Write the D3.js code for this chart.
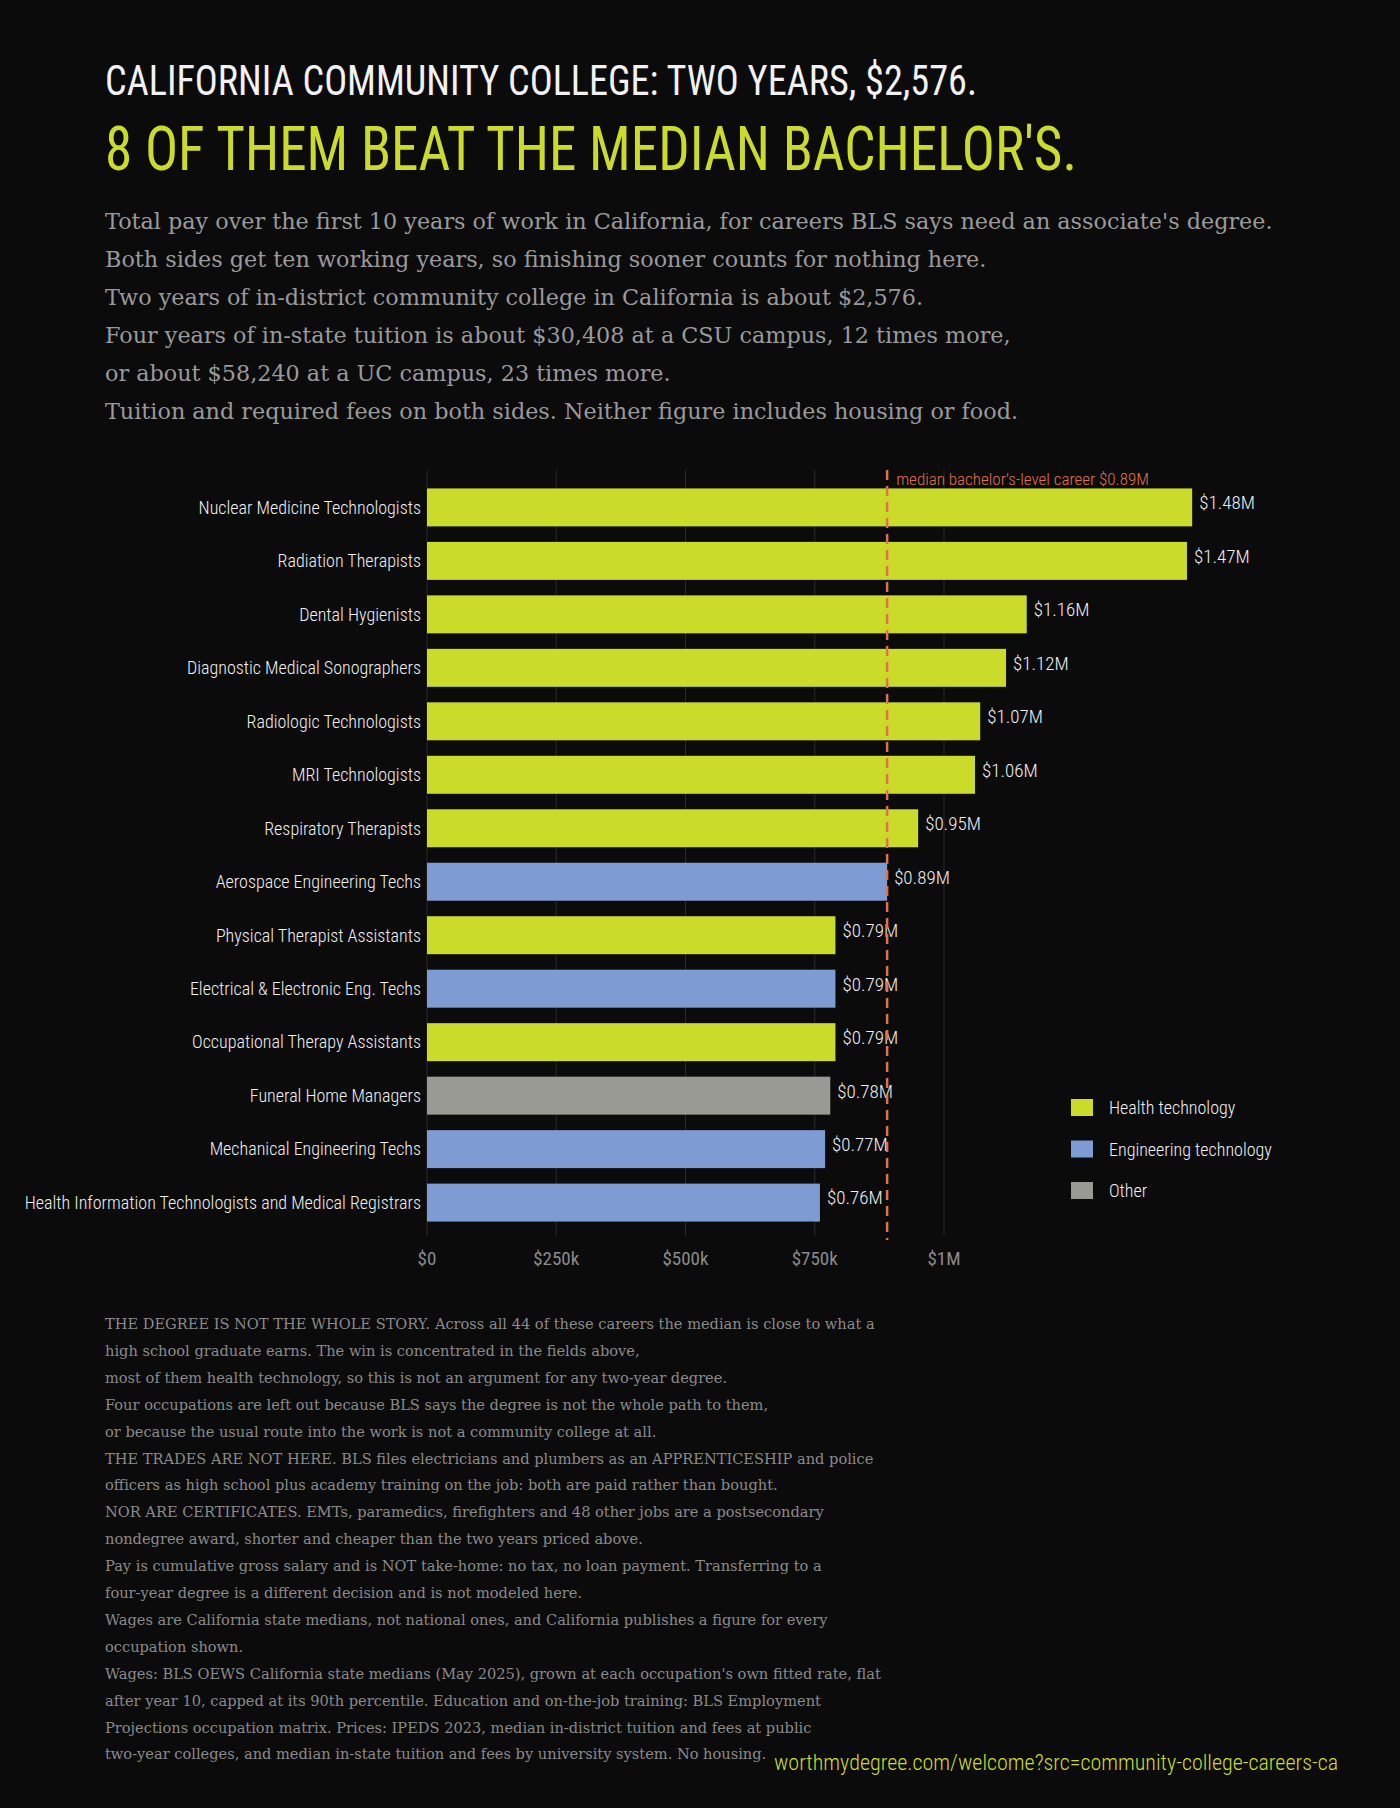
<!DOCTYPE html>
<html><head><meta charset="utf-8">
<script src="https://cdn.jsdelivr.net/npm/d3@7"></script>
<style>
body{margin:0;background:#0b0b0b;}
svg{display:block;}
</style></head>
<body><svg id="chart" width="1400" height="1808"></svg>
<script>
const occupations = ["Nuclear Medicine Technologists","Radiation Therapists","Dental Hygienists","Diagnostic Medical Sonographers","Radiologic Technologists","MRI Technologists","Respiratory Therapists","Aerospace Engineering Techs","Physical Therapist Assistants","Electrical & Electronic Eng. Techs","Occupational Therapy Assistants","Funeral Home Managers","Mechanical Engineering Techs","Health Information Technologists and Medical Registrars"]
const pay = [1.48,1.47,1.16,1.12,1.07,1.06,0.95,0.89,0.79,0.79,0.79,0.78,0.77,0.76]
const groups = ["Health technology","Health technology","Health technology","Health technology","Health technology","Health technology","Health technology","Engineering technology","Health technology","Engineering technology","Health technology","Other","Engineering technology","Engineering technology"]
const groupNames = ["Health technology","Engineering technology","Other"]
const groupColors = ["#cbdb2a","#7f9bd4","#9a9a94"]
const ticks = [0,0.25,0.5,0.75,1]
const tickLabels = ["$0","$250k","$500k","$750k","$1M"]
const medianBachelor = 0.89

const subtitle = ["Total pay over the first 10 years of work in California, for careers BLS says need an associate's degree.",
"Both sides get ten working years, so finishing sooner counts for nothing here.",
"Two years of in-district community college in California is about $2,576.",
"Four years of in-state tuition is about $30,408 at a CSU campus, 12 times more,",
"or about $58,240 at a UC campus, 23 times more.",
"Tuition and required fees on both sides. Neither figure includes housing or food."]
const notes = ["THE DEGREE IS NOT THE WHOLE STORY. Across all 44 of these careers the median is close to what a",
"high school graduate earns. The win is concentrated in the fields above,",
"most of them health technology, so this is not an argument for any two-year degree.",
"Four occupations are left out because BLS says the degree is not the whole path to them,",
"or because the usual route into the work is not a community college at all.",
"THE TRADES ARE NOT HERE. BLS files electricians and plumbers as an APPRENTICESHIP and police",
"officers as high school plus academy training on the job: both are paid rather than bought.",
"NOR ARE CERTIFICATES. EMTs, paramedics, firefighters and 48 other jobs are a postsecondary",
"nondegree award, shorter and cheaper than the two years priced above.",
"Pay is cumulative gross salary and is NOT take-home: no tax, no loan payment. Transferring to a",
"four-year degree is a different decision and is not modeled here.",
"Wages are California state medians, not national ones, and California publishes a figure for every",
"occupation shown.",
"Wages: BLS OEWS California state medians (May 2025), grown at each occupation's own fitted rate, flat",
"after year 10, capped at its 90th percentile. Education and on-the-job training: BLS Employment",
"Projections occupation matrix. Prices: IPEDS 2023, median in-district tuition and fees at public",
"two-year colleges, and median in-state tuition and fees by university system. No housing."]

const sans = "'Liberation Sans Narrow','Roboto Condensed','DejaVu Sans Condensed',sans-serif"
const serif = "'DejaVu Serif',serif"
const svg = d3.select("#chart")

svg.append("text").attr("x",105).attr("y",95).attr("fill","#f2f2f2")
  .attr("font-family",sans).attr("font-size",42)
  .attr("textLength",872).attr("lengthAdjust","spacingAndGlyphs")
  .text("CALIFORNIA COMMUNITY COLLEGE: TWO YEARS, $2,576.")
svg.append("text").attr("x",105).attr("y",170).attr("fill","#cbdb2a")
  .attr("font-family",sans).attr("font-size",62)
  .attr("textLength",972).attr("lengthAdjust","spacingAndGlyphs")
  .text("8 OF THEM BEAT THE MEDIAN BACHELOR'S.")
svg.selectAll(".sub").data(subtitle).enter().append("text")
  .attr("x",105).attr("y",(d,i)=>229+i*38).attr("fill","#9a9a9a")
  .attr("font-family",serif).attr("font-size",22.3).text(d=>d)

const x = d3.scaleLinear().domain([0,1]).range([427,944])
const y = d3.scaleBand().domain(occupations).range([482,1228]).paddingInner(0.29).paddingOuter(0.12)
const color = d3.scaleOrdinal().domain(groupNames).range(groupColors)

svg.append("g").selectAll("line").data(ticks).enter().append("line")
  .attr("x1",d=>x(d)).attr("x2",d=>x(d)).attr("y1",470).attr("y2",1236)
  .attr("stroke","#2a2a2a").attr("stroke-width",1)

svg.append("g").selectAll("text").data(ticks).enter().append("text")
  .attr("x",d=>x(d)).attr("y",1265).attr("text-anchor","middle").attr("fill","#8a8a8a")
  .attr("font-family",sans).attr("font-size",19).text((d,i)=>tickLabels[i])

svg.append("g").selectAll("rect").data(occupations).enter().append("rect")
  .attr("x",x(0)).attr("y",d=>y(d)).attr("height",y.bandwidth())
  .attr("width",(d,i)=>x(pay[i])-x(0)).attr("fill",(d,i)=>color(groups[i]))

svg.append("g").selectAll("text").data(occupations).enter().append("text")
  .attr("x",x(0)-6).attr("y",d=>y(d)+y.bandwidth()/2).attr("dy","0.35em").attr("text-anchor","end")
  .attr("fill","#f0f0f0").attr("font-family",sans).attr("font-size",18).attr("font-weight",300).text(d=>d)

svg.append("g").selectAll("text").data(occupations).enter().append("text")
  .attr("x",(d,i)=>x(pay[i])+7).attr("y",d=>y(d)+y.bandwidth()/2).attr("dy","0.1em")
  .attr("fill","#f0f0f0").attr("font-family",sans).attr("font-size",19).attr("font-weight",300).text((d,i)=>"$"+pay[i].toFixed(2)+"M")

svg.append("line").attr("x1",x(medianBachelor)).attr("x2",x(medianBachelor)).attr("y1",470).attr("y2",1240)
  .attr("stroke","#e0714a").attr("stroke-width",2.5).attr("stroke-dasharray","10,6")
svg.append("text").attr("x",x(medianBachelor)+9).attr("y",485).attr("fill","#e0714a")
  .attr("font-family",sans).attr("font-size",17).attr("font-weight",300).text("median bachelor's-level career  $0.89M")

const leg = svg.append("g").selectAll("g").data(groupNames).enter().append("g")
  .attr("transform",(d,i)=>`translate(1071,${1099+i*41.5})`)
leg.append("rect").attr("width",22).attr("height",17).attr("fill",d=>color(d))
leg.append("text").attr("x",38).attr("y",9).attr("dy","0.35em").attr("fill","#f0f0f0")
  .attr("font-family",sans).attr("font-size",18).attr("font-weight",300).text(d=>d)

svg.selectAll(".note").data(notes).enter().append("text")
  .attr("x",105).attr("y",(d,i)=>1329+i*26.9).attr("fill","#8a8a8a")
  .attr("font-family",serif).attr("font-size",14.6).text(d=>d)

svg.append("text").attr("x",1338).attr("y",1770).attr("text-anchor","end").attr("fill","#cbdb2a")
  .attr("font-family",sans).attr("font-size",22).attr("font-weight",300).text("worthmydegree.com/welcome?src=community-college-careers-ca")
</script></body></html>
